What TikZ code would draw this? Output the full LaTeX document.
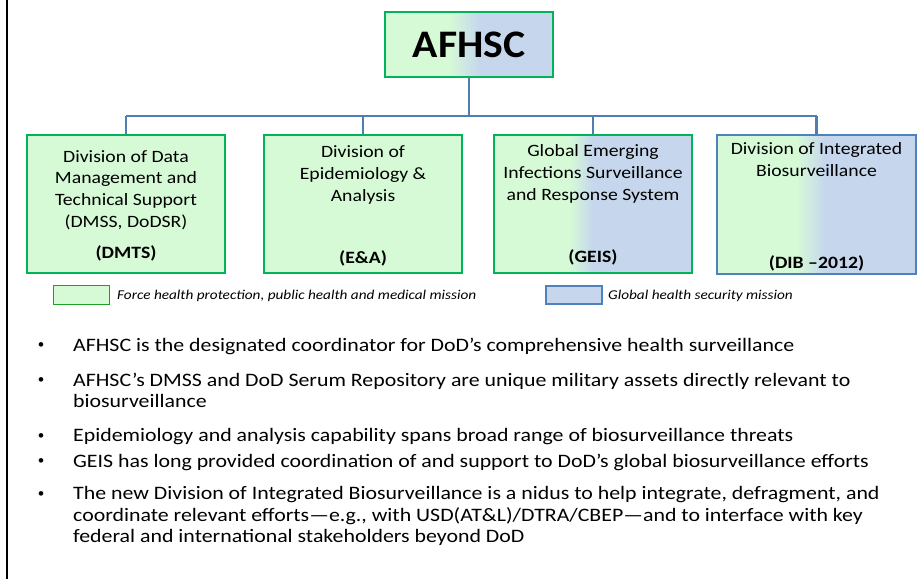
\documentclass[tikz,border=0pt]{standalone}
\usepackage{fontspec}
\setmainfont{Carlito}
\newfontfamily\topfont{Carlito}[FakeStretch=1.07]
\newfontfamily\boxfont{Carlito}[FakeStretch=1.14]
\newfontfamily\legfont{Carlito}[FakeStretch=1.13]
\newfontfamily\bulfont{Carlito}[FakeStretch=1.15]
\definecolor{lgreen}{RGB}{214,250,214}
\definecolor{lblue}{RGB}{198,215,237}
\definecolor{bgreen}{RGB}{0,180,90}
\definecolor{dgreen}{RGB}{30,160,40}
\definecolor{bblue}{RGB}{79,129,189}
\definecolor{cblue}{RGB}{80,126,176}
\pgfdeclarehorizontalshading{gbA}{100bp}{color(0bp)=(lgreen); color(44bp)=(lgreen); color(53bp)=(lblue); color(100bp)=(lblue)}
\pgfdeclarehorizontalshading{gbB}{100bp}{color(0bp)=(lgreen); color(44bp)=(lgreen); color(50bp)=(lblue); color(100bp)=(lblue)}
\pgfdeclarehorizontalshading{gbC}{100bp}{color(0bp)=(lgreen); color(45bp)=(lgreen); color(52bp)=(lblue); color(100bp)=(lblue)}
\tikzset{
  divbox/.style={rectangle, line width=2.2pt, minimum width=198pt, minimum height=138pt, inner sep=0pt},
  conn/.style={draw=cblue, line width=2.5pt},
  boxtxt/.style={align=center, inner sep=0pt, font=\boxfont\fontsize{17.3}{21.7}\selectfont},
  boldtxt/.style={inner sep=0pt, font=\boxfont\fontsize{17.3}{21.7}\selectfont\bfseries},
  legtxt/.style={anchor=west, inner sep=0pt, font=\legfont\fontsize{13.5}{16}\selectfont\itshape},
  bul/.style={anchor=west, inner sep=0pt, font=\bulfont\fontsize{19}{21}\selectfont},
  bulmark/.style={inner sep=0pt, font=\fontsize{13}{16}\selectfont}
}
\begin{document}
\begin{tikzpicture}[x=1pt,y=-1pt]
\useasboundingbox (0,0) rectangle (917,579);
\fill[white] (0,0) rectangle (917,579);
\draw[line width=2pt] (7,0) -- (7,579);

% top node
\node[rectangle, draw=bgreen, line width=2.2pt, shade, shading=gbA, minimum width=168pt, minimum height=65pt, inner sep=0pt,
  font=\topfont\fontsize{39}{45}\selectfont\bfseries] (afhsc) at (469,44.5) {AFHSC};

% division boxes
\node[divbox, draw=bgreen, fill=lgreen] (b1) at (126,204) {};
\node[divbox, draw=bgreen, fill=lgreen] (b2) at (363,204) {};
\node[divbox, draw=bgreen, shade, shading=gbB] (b3) at (593,204) {};
\node[divbox, draw=bblue, shade, shading=gbC, minimum width=199pt, minimum height=139pt] (b4) at (816.5,204.5) {};

% connectors
\coordinate (busL) at (126,116);
\coordinate (busR) at (816.5,116);
\draw[conn] (busL) -- (busR);
\draw[conn] (afhsc.south) -- (afhsc.south |- busL);
\draw[conn] (b1.north) -- (b1.north |- busL);
\draw[conn] (b2.north) -- (b2.north |- busL);
\draw[conn] (b3.north) -- (b3.north |- busL);
\draw[conn] (b4.north) -- (b4.north |- busL);

% box texts
\node[boxtxt] (t1) at (126,190) {Division of Data\\Management and\\Technical Support\\(DMSS, DoDSR)};
\node[boldtxt] (l1) at (126,253) {(DMTS)};
\node[boxtxt] (t2) at (363,175) {Division of\\Epidemiology \&\\Analysis};
\node[boldtxt] (l2) at (363,258) {(E\&A)};
\node[boxtxt] (t3) at (593,174) {Global Emerging\\Infections Surveillance\\and Response System};
\node[boldtxt] (l3) at (593,257) {(GEIS)};
\node[boxtxt] (t4) at (816.5,159.5) {Division of Integrated\\Biosurveillance};
\node[boldtxt] (l4) at (816.5,263) {(DIB –2012)};

% legend
\node[rectangle, draw=dgreen, fill=lgreen, line width=1.8pt, minimum width=56pt, minimum height=19pt, inner sep=0pt] (lg1) at (81.5,295) {};
\node[legtxt] (lt1) at (117,296) {Force health protection, public health and medical mission};
\node[rectangle, draw=bblue, fill=lblue, line width=1.8pt, minimum width=56pt, minimum height=18pt, inner sep=0pt] (lg2) at (574,295) {};
\node[legtxt] (lt2) at (608,296) {Global health security mission};

% bullets
\node[bulmark] (m1) at (41,346) {•};
\node[bul] (p1) at (73,346) {AFHSC is the designated coordinator for DoD’s comprehensive health surveillance};
\node[bulmark] (m2) at (41,381) {•};
\node[bul] (p2) at (73,381) {AFHSC’s DMSS and DoD Serum Repository are unique military assets directly relevant to};
\node[bul] (p2b) at (73,401) {biosurveillance};
\node[bulmark] (m3) at (41,437) {•};
\node[bul] (p3) at (73,437) {Epidemiology and analysis capability spans broad range of biosurveillance threats};
\node[bulmark] (m4) at (41,462) {•};
\node[bul] (p4) at (73,462) {GEIS has long provided coordination of and support to DoD’s global biosurveillance efforts};
\node[bulmark] (m5) at (41,495) {•};
\node[bul] (p5) at (73,495) {The new Division of Integrated Biosurveillance is a nidus to help integrate, defragment, and};
\node[bul] (p5b) at (73,516) {coordinate relevant efforts—e.g., with USD(AT\&L)/DTRA/CBEP—and to interface with key};
\node[bul] (p5c) at (73,537) {federal and international stakeholders beyond DoD};
\end{tikzpicture}
\end{document}
